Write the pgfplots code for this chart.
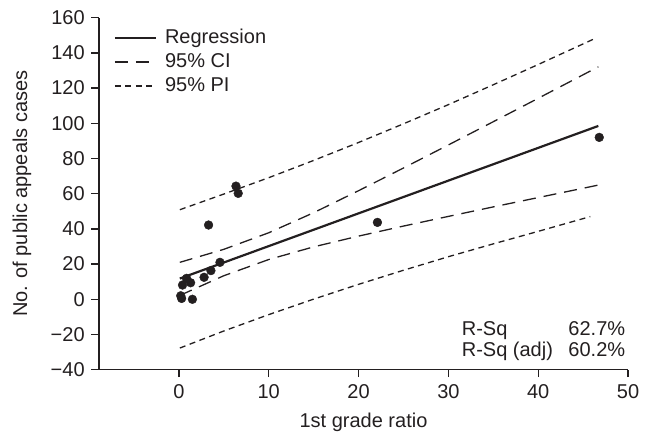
\documentclass[border=0pt]{standalone}
\usepackage{fontspec}
\setmainfont{Liberation Sans}
\usepackage{pgfplots}
\pgfplotsset{compat=1.18}
\definecolor{ink}{HTML}{231F20}

\begin{document}
\fontsize{20}{24}\selectfont
\begin{tikzpicture}
\begin{axis}[
    name=ax,
    scale only axis,
    width=529pt, height=352pt,
    xmin=-8.9, xmax=50, ymin=-40, ymax=160,
    axis lines*=left,
    axis line style={ink, line width=1.3pt},
    tick align=outside,
    major tick length=7.5pt,
    tick style={ink, line width=1.3pt},
    xtick={0,10,20,30,40,50},
    ytick={-40,-20,0,20,40,60,80,100,120,140,160},
    yticklabels={−40,−20,0,20,40,60,80,100,120,140,160},
    /pgf/number format/assume math mode=true,
    ticklabel style={font=\fontsize{20}{24}\selectfont, text=ink},
    xlabel={1st grade ratio},
    ylabel={No. of public appeals cases},
    xlabel style={at={(axis description cs:0.5,-0.1506)}, anchor=center, text=ink},
    ylabel style={at={(axis description cs:-0.1456,0.5)}, anchor=center, text=ink},
    legend style={draw=none, fill=none, at={(axis description cs:0.022,0.98)}, anchor=north west,
                  font=\fontsize{20}{24}\selectfont, text=ink, row sep=3pt, column sep=6pt},
    legend cell align=left,
    legend image code/.code={\draw[#1] (0pt,0pt) -- (41pt,0pt);},
    clip=false,
  ]
  % regression line
  \addplot[ink, line width=2.2pt] coordinates {
    (0.1,11.8)(46.7,98.5)};
  \addlegendentry{Regression}
  % 95% CI
  \addplot[ink, line width=1.3pt, dash pattern=on 13pt off 8pt] coordinates {
    (0.1,21.0)(5,28.4)(10,37.8)(15,49.2)(20,61.7)(25,74.6)(30,87.7)(35,100.9)(40,114.2)(46.7,132.1)};
  \addlegendentry{95\% CI}
  \addplot[ink, line width=1.3pt, dash pattern=on 13pt off 8pt, forget plot] coordinates {
    (0.1,2.2)(5,13.4)(10,22.6)(15,29.8)(20,35.9)(25,41.6)(30,47.1)(35,52.5)(40,57.8)(46.7,64.9)};
  % 95% PI
  \addplot[ink, line width=1.3pt, dash pattern=on 6pt off 4.5pt] coordinates {
    (0.1,50.9)(5,59.8)(10,69.1)(15,78.9)(20,89.1)(25,99.7)(30,110.6)(35,121.9)(40,133.4)(46.2,147.9)};
  \addlegendentry{95\% PI}
  \addplot[ink, line width=1.3pt, dash pattern=on 6pt off 4.5pt, forget plot] coordinates {
    (0.1,-27.7)(5,-18.0)(10,-8.7)(15,0.1)(20,8.5)(25,16.5)(30,24.2)(35,31.5)(40,38.6)(45.8,47.0)};
  % observations
  \addplot[only marks, mark=*, mark size=4.4pt, ink, forget plot] coordinates {
    (6.35,64.3)(6.6,60.2)(3.3,42.2)(4.57,21.0)(3.56,16.3)(2.8,12.5)
    (0.85,11.9)(1.3,9.4)(0.4,8.1)(0.2,2.0)(0.3,0.5)(1.5,0.0)
    (22.1,43.7)(46.8,92.0)};
  \node[anchor=base west, inner sep=0pt, text=ink] at (axis cs:31.48,-20.3) {R-Sq};
  \node[anchor=base west, inner sep=0pt, text=ink] at (axis cs:43.35,-20.3) {62.7\%};
  \node[anchor=base west, inner sep=0pt, text=ink] at (axis cs:31.48,-32.6) {R-Sq (adj)};
  \node[anchor=base west, inner sep=0pt, text=ink] at (axis cs:43.35,-32.6) {60.2\%};
\end{axis}
\path ([xshift=-99pt,yshift=-69.3pt]ax.south west) rectangle ([xshift=23pt,yshift=17.7pt]ax.north east);
\end{tikzpicture}
\end{document}
